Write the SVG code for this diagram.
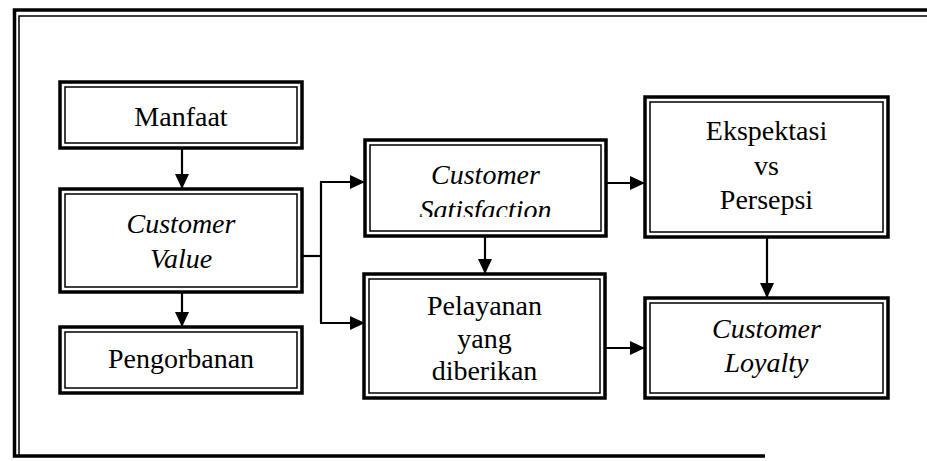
<svg xmlns="http://www.w3.org/2000/svg" width="927" height="461" viewBox="0 0 927 461">
<style>
.bo{fill:#fff;stroke:#000;stroke-width:3.5}
.bi{fill:none;stroke:#000;stroke-width:1.5}
.t{font-family:'Liberation Serif','Times New Roman',Times,serif;font-size:28px;fill:#000;text-anchor:middle}
.i{font-style:italic}
.c{fill:none;stroke:#000;stroke-width:2.2}
.fo{fill:none;stroke:#000;stroke-width:3.5}
.fi{fill:none;stroke:#000;stroke-width:1.5}
</style>
<defs>
<marker id="ah" markerUnits="userSpaceOnUse" markerWidth="15" markerHeight="14" refX="15" refY="7" orient="auto">
<path d="M0,0 L15,7 L0,14 Z" fill="#000"/>
</marker>
<clipPath id="satclip"><rect x="365" y="140" width="241" height="77"/></clipPath>
</defs>
<rect width="927" height="461" fill="#fff"/>
<g id="frame">
<path class="fo" d="M927,10 L14.5,10 L14.5,456 L765,456"/>
<path class="fi" d="M927,16 L19,16 L19,456"/>
</g>
<g id="connectors">
<line class="c" x1="182" y1="148" x2="182" y2="189" marker-end="url(#ah)"/>
<line class="c" x1="182" y1="292" x2="182" y2="327" marker-end="url(#ah)"/>
<path class="c" d="M302,256 L321,256"/>
<path class="c" d="M321,182 L321,323"/>
<line class="c" x1="320" y1="182" x2="365" y2="182" marker-end="url(#ah)"/>
<line class="c" x1="320" y1="323" x2="365" y2="323" marker-end="url(#ah)"/>
<line class="c" x1="485" y1="236" x2="485" y2="274" marker-end="url(#ah)"/>
<line class="c" x1="606" y1="183" x2="645" y2="183" marker-end="url(#ah)"/>
<line class="c" x1="767" y1="237" x2="767" y2="298" marker-end="url(#ah)"/>
<line class="c" x1="605" y1="348" x2="645" y2="348" marker-end="url(#ah)"/>
</g>
<g id="manfaat">
<rect class="bo" x="60" y="82" width="242" height="66"/>
<rect class="bi" x="65" y="87" width="232" height="56"/>
<text class="t" x="181" y="126">Manfaat</text>
</g>
<g id="customer-value">
<rect class="bo" x="60" y="189" width="242" height="103"/>
<rect class="bi" x="65" y="194" width="232" height="93"/>
<text class="t i" x="181" y="233">Customer</text>
<text class="t i" x="181" y="268">Value</text>
</g>
<g id="pengorbanan">
<rect class="bo" x="60" y="327" width="242" height="66"/>
<rect class="bi" x="65" y="332" width="232" height="56"/>
<text class="t" x="181" y="368">Pengorbanan</text>
</g>
<g id="customer-satisfaction">
<rect class="bo" x="365" y="140" width="241" height="96"/>
<rect class="bi" x="370" y="145" width="231" height="86"/>
<text class="t i" x="485.5" y="184">Customer</text>
<text class="t i" x="485.5" y="219" clip-path="url(#satclip)">Satisfaction</text>
</g>
<g id="pelayanan">
<rect class="bo" x="364" y="274" width="241" height="124"/>
<rect class="bi" x="369" y="279" width="231" height="114"/>
<text class="t" x="484.5" y="315">Pelayanan</text>
<text class="t" x="484.5" y="348">yang</text>
<text class="t" x="484.5" y="380">diberikan</text>
</g>
<g id="ekspektasi">
<rect class="bo" x="645" y="97" width="243" height="140"/>
<rect class="bi" x="650" y="102" width="233" height="130"/>
<text class="t" x="766.5" y="140">Ekspektasi</text>
<text class="t" x="766.5" y="175">vs</text>
<text class="t" x="766.5" y="209">Persepsi</text>
</g>
<g id="customer-loyalty">
<rect class="bo" x="645" y="298" width="243" height="100"/>
<rect class="bi" x="650" y="303" width="233" height="90"/>
<text class="t i" x="766.5" y="338">Customer</text>
<text class="t i" x="766.5" y="372">Loyalty</text>
</g>
</svg>
